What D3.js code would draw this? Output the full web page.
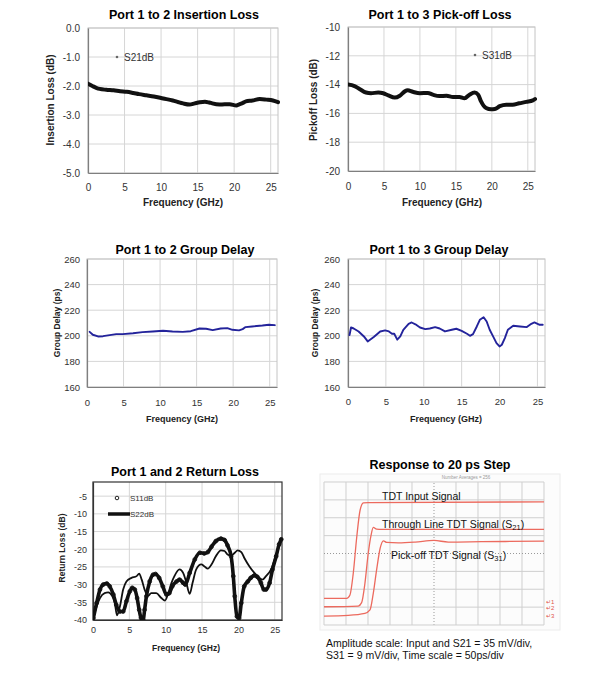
<!DOCTYPE html>
<html>
<head>
<meta charset="utf-8">
<script src="https://cdn.jsdelivr.net/npm/d3@7"></script>
<style>
  body { margin: 0; background: #fff; }
  svg { font-family: "Liberation Sans", Arial, sans-serif; }
</style>
</head>
<body>
<div id="chart"></div>
<script>
// ---- data ----
var freqTicks = [0, 5, 10, 15, 20, 25];

// Port 1 to 2 insertion loss (S21, dB)
var ilFreq = [0, 0.6, 1.2, 1.6, 2.5, 3.5, 4.4, 5.3, 6.2, 7, 8, 9, 10.3, 11.6, 12.4, 13, 13.9, 14.6, 15.3, 16, 16.6, 17, 18, 18.7, 19.4, 20.3, 20.7, 21.2, 21.6, 22.5, 23.5, 24.4, 25.3, 26];
var ilDb = [-1.92, -2.0, -2.07, -2.1, -2.13, -2.15, -2.18, -2.2, -2.24, -2.28, -2.32, -2.36, -2.43, -2.5, -2.56, -2.6, -2.64, -2.6, -2.56, -2.54, -2.57, -2.6, -2.64, -2.63, -2.63, -2.67, -2.63, -2.58, -2.53, -2.5, -2.45, -2.47, -2.5, -2.56];

// Port 1 to 3 pick-off loss (S31, dB)
var poFreq = [0, 0.9, 1.6, 2.5, 3.2, 4.2, 4.9, 5.6, 6.5, 7.2, 7.9, 8.3, 9, 10, 11.1, 11.8, 12.7, 13.7, 14.6, 15.5, 16.2, 16.9, 17.6, 18.1, 18.5, 19.2, 19.9, 20.4, 21.1, 22, 22.9, 23.8, 24.8, 25.7, 26];
var poDb = [-14.0, -14.1, -14.3, -14.55, -14.6, -14.55, -14.6, -14.75, -14.9, -14.77, -14.47, -14.4, -14.5, -14.6, -14.58, -14.7, -14.8, -14.77, -14.86, -14.86, -14.95, -14.7, -14.55, -14.7, -15.17, -15.63, -15.72, -15.7, -15.5, -15.4, -15.4, -15.3, -15.2, -15.1, -15.0];

// group delay, ps
var gd12Freq = [0.36, 0.8, 1.5, 2.2, 3.1, 4, 4.9, 6.3, 7.6, 9, 10.4, 11.7, 13.1, 14.2, 15.4, 16.3, 17.2, 18.3, 19.2, 19.9, 20.8, 21.3, 21.7, 22.6, 24, 24.9, 25.7];
var gd12Ps = [203.1, 200.8, 199.5, 199.7, 200.5, 201.3, 201.3, 202, 202.9, 203.4, 203.9, 203.4, 203.1, 203.6, 205.7, 205.5, 204.4, 205.7, 206, 204.7, 204.2, 205.2, 206.8, 207.3, 208, 208.6, 208.3];

var gd13Freq = [0.2, 0.4, 0.75, 1.4, 2.1, 2.6, 3.4, 4.25, 4.9, 5.4, 5.8, 6.1, 6.5, 6.9, 7.3, 8, 8.4, 8.9, 9.5, 10.2, 10.8, 11.5, 12.1, 12.8, 13.7, 14.3, 15, 15.7, 16.1, 16.5, 17, 17.4, 17.9, 18.3, 18.7, 19.2, 19.6, 20, 20.3, 20.7, 21.1, 21.8, 22.7, 23.6, 24.2, 24.6, 25.3, 25.7];
var gd13Ps = [200.5, 206.5, 205.7, 203.4, 199.5, 195.6, 199, 203.4, 204.2, 203.4, 201.6, 201.6, 197, 199.5, 204.7, 209.4, 210.4, 209, 206.5, 205.2, 205.7, 206.8, 205.7, 203.4, 204.7, 205.5, 203.9, 201.6, 200, 201.3, 207.3, 212.5, 214.5, 211.2, 204.7, 199, 194.3, 191.7, 193, 198.2, 204.7, 207.8, 207.3, 206.8, 209.4, 210.4, 208.6, 208.6];

// return loss, dB
var s11Freq = [0.05, 0.5, 0.96, 1.4, 1.9, 2.3, 2.8, 3.2, 3.7, 4.15, 4.6, 5.07, 5.4, 5.75, 6.07, 6.35, 6.6, 6.9, 7.1, 7.35, 7.8, 8.26, 8.6, 9.1, 9.6, 10.1, 10.5, 10.9, 11.5, 11.9, 12.4, 12.7, 13.3, 14, 14.7, 15.3, 15.8, 16.3, 16.9, 17.6, 18.1, 18.5, 19, 19.3, 19.5, 19.8, 20.1, 20.4, 20.8, 21.3, 21.7, 22.2, 22.6, 23.1, 23.5, 23.8, 24.3, 24.7, 25.2, 25.6, 25.9];
var s11Db = [-39.5, -35.2, -31.4, -30, -29.7, -30.5, -32.8, -35.7, -37.6, -37.6, -34.7, -31.9, -30.9, -31.4, -33.8, -37.1, -39.4, -40, -37.1, -33.3, -29.1, -27.2, -27, -28.1, -30.5, -32.8, -32.4, -30.5, -29.1, -28.6, -29.5, -30, -26.7, -22.9, -21, -21.2, -20.8, -19.3, -17.7, -17, -17.4, -18.9, -22, -27.6, -33.3, -39, -39.5, -35.2, -30.5, -29.1, -28.1, -27.4, -27.8, -29.5, -31.4, -31.4, -29.5, -25.7, -22, -18.6, -17.2];
var s22Freq = [0.05, 0.5, 0.96, 1.6, 2.1, 2.6, 3, 3.3, 3.7, 4.15, 4.6, 5.3, 6, 6.35, 6.7, 7.1, 7.6, 8, 8.7, 9.4, 9.9, 10.3, 10.8, 11.2, 11.9, 12.4, 12.8, 13.3, 13.7, 14.2, 14.9, 15.3, 15.8, 16.3, 16.9, 17.6, 18.1, 18.5, 19, 19.5, 19.9, 20.4, 20.8, 21.5, 22.2, 22.9, 23.3, 23.8, 24.5, 25.2, 25.9];
var s22Db = [-39.5, -36.2, -33.8, -32.4, -32.2, -33.1, -35.2, -38.7, -36.2, -31.4, -29.1, -28.1, -27.6, -26.9, -28.6, -31.4, -33.1, -32.4, -32.4, -33.8, -34.5, -32.8, -29.5, -27.6, -25.7, -26.7, -29.1, -32.6, -29.5, -25.7, -24.3, -24.8, -25.5, -24.3, -22, -20.3, -20.5, -21.5, -21.8, -21, -20.3, -20.8, -22.4, -24.8, -26.7, -28.1, -28.6, -27.6, -25.7, -21.5, -17.7];

// TDT step response: time in ps (50 ps/div), level in divisions
var inTime = [0, 51.5, 59, 66.5, 74.5, 82, 89.5, 100.5, 500];
var inDiv = [1.49, 1.49, 1.68, 2.89, 4.94, 6.42, 6.83, 6.85, 6.89];
var thTime = [0, 78, 85.5, 93, 100.5, 107, 112, 119.5, 131, 500];
var thDiv = [1.02, 1.06, 1.25, 2.33, 4.0, 5.03, 5.46, 5.36, 5.35, 5.35];
var pkTime = [0, 55, 93, 104.5, 112, 119.5, 127.5, 135, 142.5, 169, 207, 250, 282.5, 358.5, 500];
var pkDiv = [0.5, 0.54, 0.65, 0.84, 1.77, 3.07, 4.28, 4.71, 4.62, 4.6, 4.64, 4.73, 4.64, 4.66, 4.69];

var zip = (xs, ys) => xs.map((v, i) => ({ x: v, y: ys[i] }));

var svg = d3.select("#chart")
    .append("svg")
    .attr("width", 600)
    .attr("height", 675);
var defs = svg.append("defs");
var panelCount = 0;

// one frequency-domain panel
function makePanel(p) {
    var x = d3.scaleLinear().domain([0, 26]).range([p.left, p.right]);
    var y = d3.scaleLinear().domain(p.yDomain).range([p.bottom, p.top]);
    var g = svg.append("g");
    var clipId = "clip" + (panelCount++);
    defs.append("clipPath").attr("id", clipId)
        .append("rect")
        .attr("x", p.left).attr("y", p.top - 2)
        .attr("width", p.right - p.left + 2).attr("height", p.bottom - p.top + 2);

    g.selectAll(".vg").data(freqTicks).enter().append("line")
        .attr("x1", d => x(d)).attr("x2", d => x(d))
        .attr("y1", p.top).attr("y2", p.bottom)
        .attr("stroke", "#d6d6d6");
    g.selectAll(".hg").data(p.yTicks).enter().append("line")
        .attr("x1", p.left).attr("x2", p.right)
        .attr("y1", d => y(d)).attr("y2", d => y(d))
        .attr("stroke", "#d6d6d6");

    g.append("rect")
        .attr("x", p.left).attr("y", p.top)
        .attr("width", p.right - p.left).attr("height", p.bottom - p.top)
        .attr("fill", "none")
        .attr("stroke", p.boxed ? "#333" : "#c4c4c4")
        .attr("stroke-width", p.boxed ? 1.2 : 1);

    var xAxis = g.append("g")
        .attr("transform", `translate(0, ${p.bottom})`)
        .call(d3.axisBottom(x).tickValues(freqTicks).tickSize(0).tickSizeOuter(0).tickPadding(p.xPad));
    var yAxis = g.append("g")
        .attr("transform", `translate(${p.left}, 0)`)
        .call(d3.axisLeft(y).tickValues(p.yTicks).tickSize(0).tickSizeOuter(0).tickPadding(p.yPad).tickFormat(p.fmt));

    [xAxis, yAxis].forEach(a => {
        a.attr("font-family", null).attr("font-size", p.tickFont);
        a.select(".domain").attr("stroke", p.boxed ? "#333" : "#7f7f7f").attr("stroke-width", 1.2);
        a.selectAll("text").attr("fill", "#333");
    });

    svg.append("text")
        .attr("x", p.title[1]).attr("y", p.title[2])
        .attr("text-anchor", "middle")
        .attr("font-size", 12.5).attr("font-weight", "bold")
        .text(p.title[0]);
    svg.append("text")
        .attr("x", p.xTitle[0]).attr("y", p.xTitle[1])
        .attr("text-anchor", "middle")
        .attr("font-size", p.xTitle[2]).attr("font-weight", "bold").attr("fill", "#222")
        .text("Frequency (GHz)");
    svg.append("text")
        .attr("transform", `translate(${p.yTitle[1]}, ${p.yTitle[2]}) rotate(-90)`)
        .attr("dy", "0.35em")
        .attr("text-anchor", "middle")
        .attr("font-size", p.yTitle[3]).attr("font-weight", "bold").attr("fill", "#222")
        .text(p.yTitle[0]);

    var plot = g.append("g").attr("clip-path", `url(#${clipId})`);
    return { g: plot, x: x, y: y };
}

function drawLine(panel, data, color, width, curve) {
    panel.g.append("path")
        .datum(data)
        .attr("fill", "none")
        .attr("stroke", color)
        .attr("stroke-width", width)
        .attr("stroke-linejoin", "round")
        .attr("stroke-linecap", "round")
        .attr("d", d3.line().x(d => panel.x(d.x)).y(d => panel.y(d.y)).curve(curve));
}

// ---- Port 1 to 2 insertion loss ----
var p1 = makePanel({
    left: 88, right: 278, top: 28, bottom: 173,
    yDomain: [-5, 0], yTicks: [0, -1, -2, -3, -4, -5], fmt: d => d.toFixed(1),
    tickFont: 10, xPad: 11, yPad: 8,
    title: ["Port 1 to 2 Insertion Loss", 184, 19],
    xTitle: [183, 206, 10],
    yTitle: ["Insertion Loss (dB)", 50, 100, 10]
});
drawLine(p1, zip(ilFreq, ilDb), "#111", 4, d3.curveMonotoneX);
svg.append("circle").attr("cx", 117).attr("cy", 57).attr("r", 1.3).attr("fill", "#666");
svg.append("text").attr("x", 124).attr("y", 60.5).attr("font-size", 10).attr("fill", "#333").text("S21dB");

// ---- Port 1 to 3 pick-off loss ----
var p2 = makePanel({
    left: 348, right: 535, top: 27, bottom: 171,
    yDomain: [-20, -10], yTicks: [-10, -12, -14, -16, -18, -20], fmt: d => String(d),
    tickFont: 10, xPad: 12, yPad: 8,
    title: ["Port 1 to 3 Pick-off Loss", 440, 19],
    xTitle: [442, 206, 10],
    yTitle: ["Pickoff Loss (dB)", 313, 100, 10]
});
drawLine(p2, zip(poFreq, poDb), "#111", 4, d3.curveMonotoneX);
svg.append("circle").attr("cx", 475).attr("cy", 55).attr("r", 1.3).attr("fill", "#666");
svg.append("text").attr("x", 482).attr("y", 58.5).attr("font-size", 10).attr("fill", "#333").text("S31dB");

// ---- group delays ----
var gdTicks = [260, 240, 220, 200, 180, 160];
var p3 = makePanel({
    left: 87, right: 277, top: 259, bottom: 387,
    yDomain: [160, 260], yTicks: gdTicks, fmt: d => String(d),
    tickFont: 9.5, xPad: 12.5, yPad: 7,
    title: ["Port 1 to 2 Group Delay", 185, 254],
    xTitle: [182, 422, 9],
    yTitle: ["Group Delay (ps)", 57, 323, 8.5]
});
drawLine(p3, zip(gd12Freq, gd12Ps), "#23239b", 1.9, d3.curveLinear);

var p4 = makePanel({
    left: 348, right: 545, top: 259, bottom: 387,
    yDomain: [160, 260], yTicks: gdTicks, fmt: d => String(d),
    tickFont: 9.5, xPad: 11.5, yPad: 8,
    title: ["Port 1 to 3 Group Delay", 439, 254],
    xTitle: [446, 422, 9],
    yTitle: ["Group Delay (ps)", 315, 323, 8.5]
});
drawLine(p4, zip(gd13Freq, gd13Ps), "#23239b", 1.9, d3.curveLinear);

// ---- return loss ----
var p5 = makePanel({
    left: 93, right: 282, top: 482, bottom: 620,
    yDomain: [-40, -1], yTicks: [-5, -10, -15, -20, -25, -30, -35, -40], fmt: d => String(d),
    tickFont: 9, xPad: 7, yPad: 6, boxed: true,
    title: ["Port 1 and 2 Return Loss", 185, 476],
    xTitle: [186, 651, 8.5],
    yTitle: ["Return Loss (dB)", 62, 548, 8.5]
});
drawLine(p5, zip(s22Freq, s22Db), "#111", 1.8, d3.curveMonotoneX);
drawLine(p5, zip(s11Freq, s11Db), "#111", 3.6, d3.curveMonotoneX);
p5.g.selectAll(".s11").data(zip(s11Freq, s11Db)).enter().append("circle")
    .attr("cx", d => p5.x(d.x)).attr("cy", d => p5.y(d.y))
    .attr("r", 1.9).attr("fill", "none").attr("stroke", "#111").attr("stroke-width", 0.9);
svg.append("circle").attr("cx", 117).attr("cy", 498).attr("r", 1.8).attr("fill", "none").attr("stroke", "#222");
svg.append("text").attr("x", 130).attr("y", 501).attr("font-size", 8).attr("fill", "#333").text("S11dB");
svg.append("line").attr("x1", 108).attr("x2", 130).attr("y1", 514).attr("y2", 514).attr("stroke", "#111").attr("stroke-width", 3.5);
svg.append("text").attr("x", 130).attr("y", 517).attr("font-size", 8).attr("fill", "#333").text("S22dB");

// ---- TDT step response (scope screen) ----
var sx = d3.scaleLinear().domain([0, 500]).range([324, 544]);
var sy = d3.scaleLinear().domain([0, 8]).range([625, 482]);
var scope = svg.append("g");

scope.append("rect").attr("x", 320).attr("y", 474).attr("width", 240).attr("height", 156)
    .attr("fill", "#fcfcfc").attr("stroke", "#ececec");
scope.selectAll(".sv").data(d3.range(0, 501, 50)).enter().append("line")
    .attr("x1", d => sx(d)).attr("x2", d => sx(d)).attr("y1", sy(0)).attr("y2", sy(8))
    .attr("stroke", d => d === 250 ? "#999" : "#cfcfcf")
    .attr("stroke-dasharray", d => d === 250 ? "1,2" : null);
scope.selectAll(".sh").data(d3.range(0, 9)).enter().append("line")
    .attr("x1", sx(0)).attr("x2", sx(500)).attr("y1", d => sy(d)).attr("y2", d => sy(d))
    .attr("stroke", d => d === 4 ? "#999" : "#cfcfcf")
    .attr("stroke-dasharray", d => d === 4 ? "1,2" : null);

[[inTime, inDiv], [thTime, thDiv], [pkTime, pkDiv]].forEach(t => {
    scope.append("path")
        .datum(zip(t[0], t[1]))
        .attr("fill", "none")
        .attr("stroke", "#ec6a5e")
        .attr("stroke-width", 1.3)
        .attr("d", d3.line().x(d => sx(d.x)).y(d => sy(d.y)).curve(d3.curveMonotoneX));
});

// channel markers at right edge
var chanLevels = [1.3, 0.95, 0.5];
scope.selectAll(".ch").data(chanLevels).enter().append("text")
    .attr("x", 546).attr("y", d => sy(d) + 2)
    .attr("font-size", 6).attr("fill", "#e0524a")
    .text((d, i) => "\u21b5" + (i + 1));

scope.append("text").attr("x", 466).attr("y", 479).attr("text-anchor", "middle")
    .attr("font-size", 4.5).attr("fill", "#999").text("Number Averages = 256");

var lbl = scope.append("g").attr("font-size", 10.5).attr("fill", "#111");
lbl.append("text").attr("x", 382).attr("y", 500).text("TDT Input Signal");
var t2 = lbl.append("text").attr("x", 382).attr("y", 528).text("Through Line TDT Signal (S");
t2.append("tspan").attr("font-size", 7.5).attr("dy", 2).text("21");
t2.append("tspan").attr("dy", -2).text(")");
var t3 = lbl.append("text").attr("x", 391).attr("y", 559).text("Pick-off TDT Signal (S");
t3.append("tspan").attr("font-size", 7.5).attr("dy", 2).text("31");
t3.append("tspan").attr("dy", -2).text(")");

svg.append("text").attr("x", 440).attr("y", 469).attr("text-anchor", "middle")
    .attr("font-size", 12.5).attr("font-weight", "bold").text("Response to 20 ps Step");
svg.append("text").attr("x", 326).attr("y", 647).attr("font-size", 10.5).attr("fill", "#111")
    .text("Amplitude scale: Input and S21 = 35 mV/div,");
svg.append("text").attr("x", 326).attr("y", 659).attr("font-size", 10.5).attr("fill", "#111")
    .text("S31 = 9 mV/div, Time scale = 50ps/div");
</script>
</body>
</html>
